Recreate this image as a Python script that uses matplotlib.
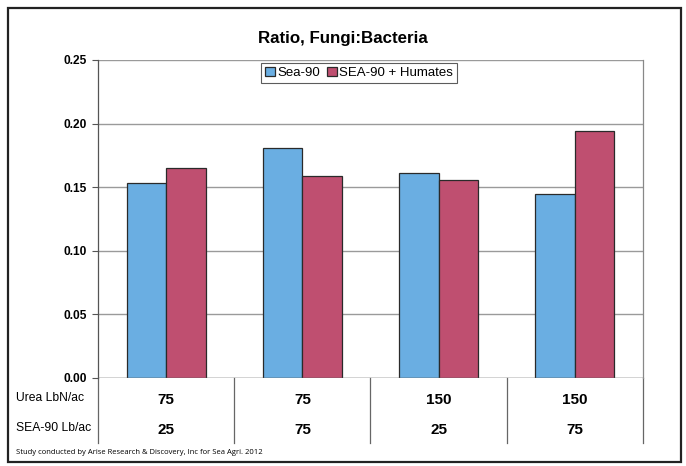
import matplotlib
matplotlib.use("Agg")
import matplotlib.pyplot as plt
from matplotlib.patches import Rectangle
import numpy as np

# Data
groups = ["1", "2", "3", "4"]
sea90 = [0.153, 0.181, 0.161, 0.145]
sea90_humates = [0.165, 0.159, 0.156, 0.194]
urea_rates = ["75", "75", "150", "150"]
sea90_rates = ["25", "75", "25", "75"]
row_labels = ["Urea LbN/ac", "SEA-90 Lb/ac"]
series_names = ["Sea-90", "SEA-90 + Humates"]
yticks = [0.00, 0.05, 0.10, 0.15, 0.20, 0.25]

W, H = 686, 466
plt.rcParams["font.family"] = ["Liberation Sans", "DejaVu Sans"]

fig = plt.figure(figsize=(W / 100, H / 100), dpi=100)
fig.patch.set_facecolor("white")

# plot area in pixels
px_left, px_right, px_top, px_bottom = 98, 643, 60, 378
ax = fig.add_axes([px_left / W, (H - px_bottom) / H,
                   (px_right - px_left) / W, (px_bottom - px_top) / H])

x = np.arange(len(groups))
bw = 0.29
blue = "#6aaee2"
red = "#bf4f70"
ax.bar(x - bw / 2, sea90, bw, color=blue, edgecolor="#2a2a2a", linewidth=0.9,
       label=series_names[0], zorder=3)
ax.bar(x + bw / 2, sea90_humates, bw, color=red, edgecolor="#2a2a2a", linewidth=0.9,
       label=series_names[1], zorder=3)

ax.set_xlim(-0.5, len(groups) - 0.5)
ax.set_ylim(0, 0.25)
ax.set_yticks(yticks)
ax.set_yticklabels([f"{v:.2f}" for v in yticks], fontsize=8.6, fontweight="bold")
ax.tick_params(axis="y", length=4, width=0.8, color="#555555", pad=4)
ax.set_xticks([])
ax.yaxis.grid(True, color="#9a9a9a", linewidth=1.0, zorder=0)

for side in ["top", "right", "bottom"]:
    ax.spines[side].set_visible(False)
ax.spines["left"].set_color("#555555")
ax.spines["left"].set_linewidth(0.9)

# table under the plot
ph = px_bottom - px_top
def ay(py):
    return (px_bottom - py) / ph

tbl_bottom = 443
for xv in [-0.5, 0.5, 1.5, 2.5, 3.5]:
    ax.plot([xv, xv], [ay(px_bottom), ay(tbl_bottom)], color="#666666", lw=0.9,
            transform=ax.get_xaxis_transform(), clip_on=False, zorder=1)
# right border of the plot area
ax.plot([3.5, 3.5], [0, 1], color="#888888", lw=0.9,
        transform=ax.get_xaxis_transform(), clip_on=False)
ax.axhline(0, color="#777777", lw=1.0, zorder=4)

for i in range(len(groups)):
    ax.text(x[i], ay(400), urea_rates[i], transform=ax.get_xaxis_transform(),
            ha="center", va="center", fontsize=11, fontweight="bold")
    ax.text(x[i], ay(430), sea90_rates[i], transform=ax.get_xaxis_transform(),
            ha="center", va="center", fontsize=11, fontweight="bold")

fig.text(16 / W, 1 - 398 / H, row_labels[0], ha="left", va="center", fontsize=8.7)
fig.text(16 / W, 1 - 428 / H, row_labels[1], ha="left", va="center", fontsize=8.7)

fig.text(16 / W, 1 - 453 / H,
         "Study conducted by Arise Research & Discovery, Inc for Sea Agri. 2012",
         ha="left", va="center", fontsize=5.5, family=["Open Sans", "DejaVu Sans"])

fig.text(343 / W, 1 - 38 / H, "Ratio, Fungi:Bacteria", ha="center", va="center",
         fontsize=12.2, fontweight="bold")

leg = ax.legend(loc="center", bbox_to_anchor=((359 - px_left) / (px_right - px_left), ay(73)),
                ncol=2, fontsize=9.5, frameon=True, fancybox=False,
                handlelength=0.75, handleheight=0.75, handletextpad=0.2,
                columnspacing=0.5, borderpad=0.3, borderaxespad=0)
leg.get_frame().set_edgecolor("#333333")
leg.get_frame().set_linewidth(0.8)

# outer border
fig.add_artist(Rectangle((8 / W, 1 - 462 / H), (681 - 8) / W, (462 - 8) / H,
                         transform=fig.transFigure, fill=False,
                         edgecolor="#222222", linewidth=1.6))

fig.savefig("out.png", dpi=100)
